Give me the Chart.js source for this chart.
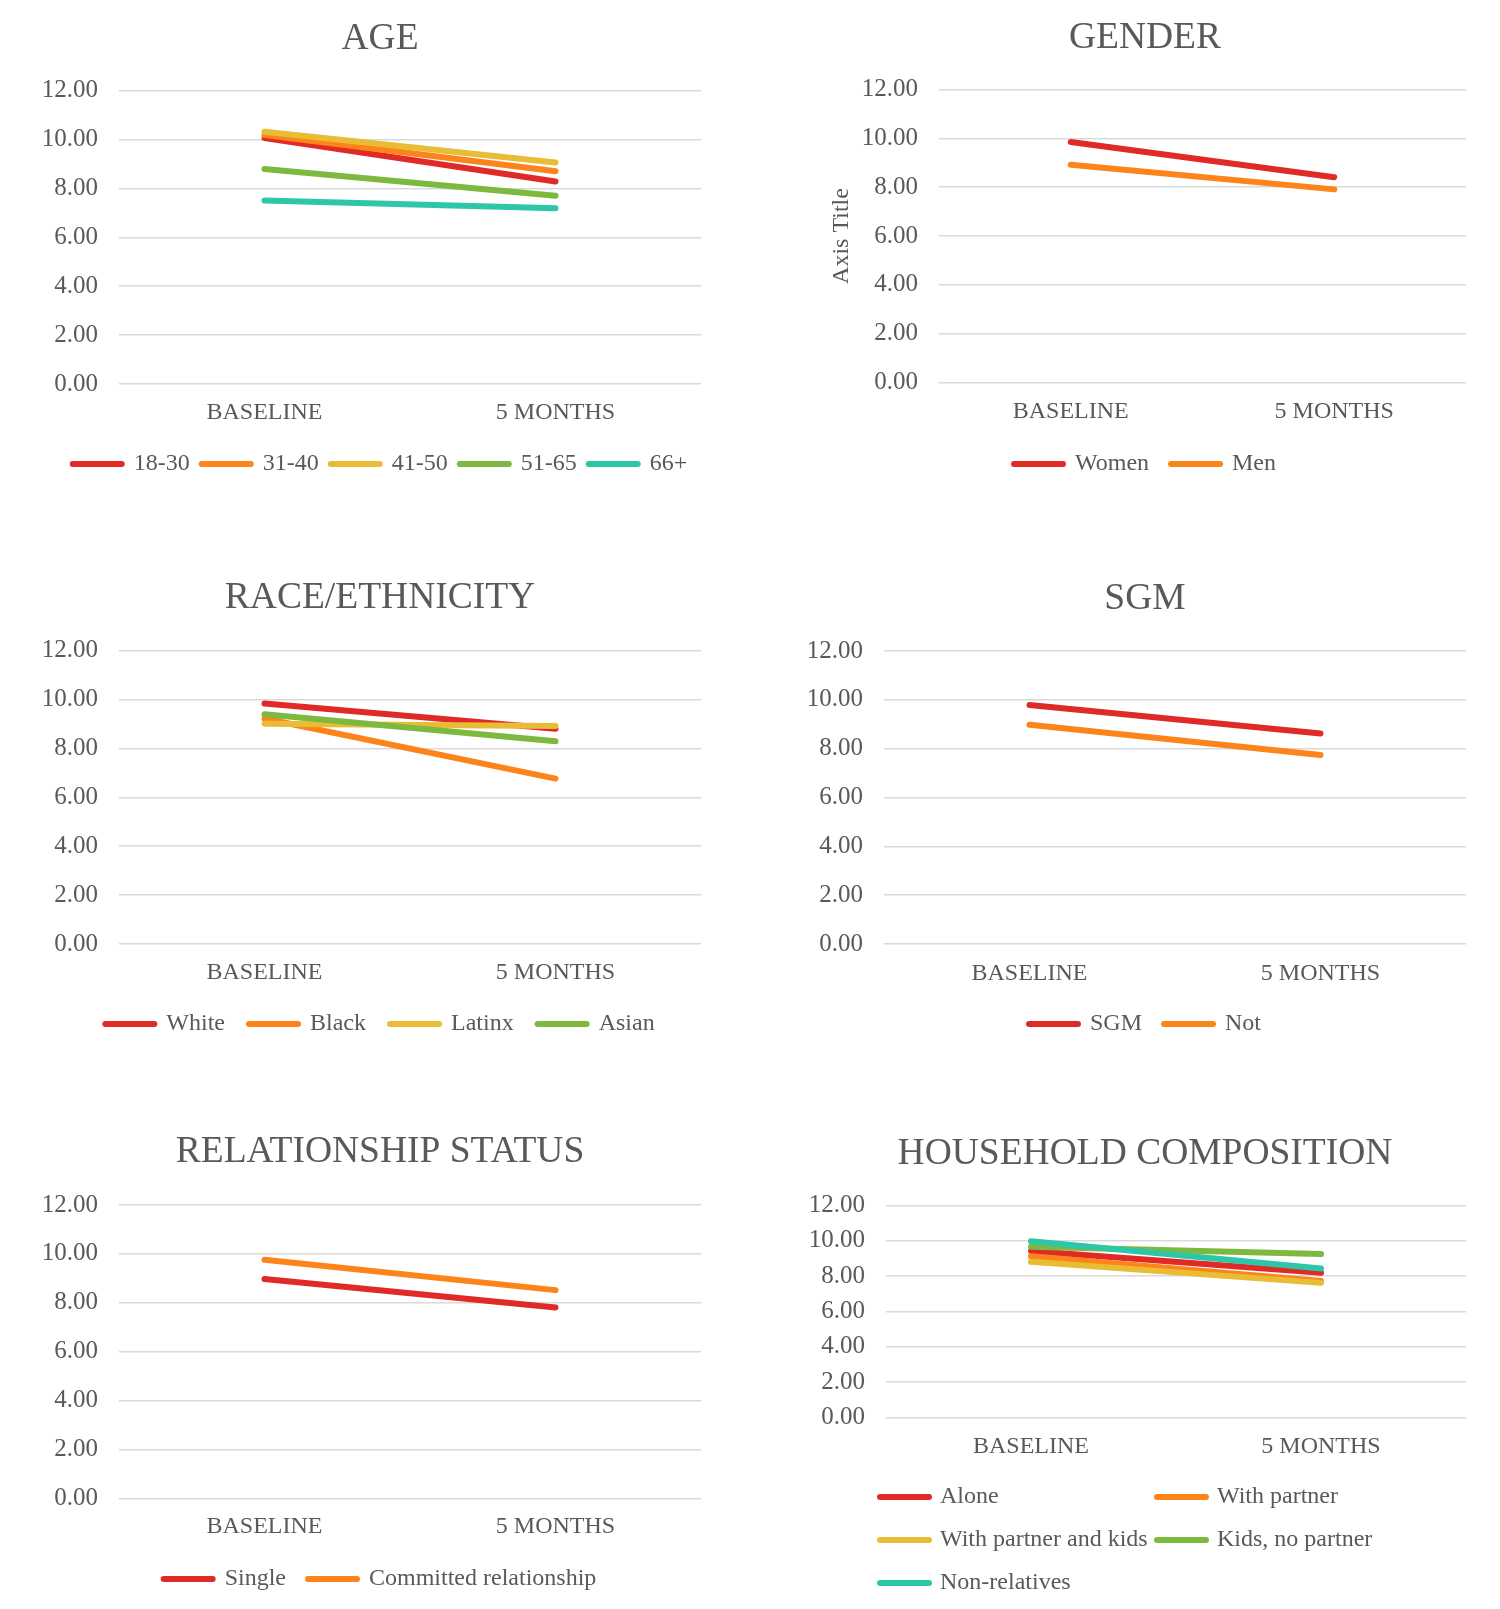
<!DOCTYPE html>
<html>
<head>
<meta charset="utf-8">
<title>Scores by group</title>
<script src="https://cdn.jsdelivr.net/npm/chart.js@4.4.1/dist/chart.umd.min.js"></script>
<style>
  body { margin: 0; background: #fff; }
  #wrap { position: relative; width: 1500px; height: 1609px; }
  #wrap canvas { position: absolute; }
</style>
</head>
<body>
<div id="wrap">
  <canvas id="ageChart" width="750" height="520" style="left:0;top:0"></canvas>
  <canvas id="genderChart" width="750" height="520" style="left:750px;top:0"></canvas>
  <canvas id="raceChart" width="750" height="520" style="left:0;top:560px"></canvas>
  <canvas id="sgmChart" width="750" height="520" style="left:750px;top:560px"></canvas>
  <canvas id="relChart" width="750" height="495" style="left:0;top:1114px"></canvas>
  <canvas id="hhChart" width="750" height="495" style="left:750px;top:1114px"></canvas>
</div>
<script>
// x categories and y axis range
const timepoints = ['BASELINE', '5 MONTHS'];
const yMin = 0;
const yMax = 12;
const yStep = 2;

// each series = [baseline, 5 months]
const ageGroups = ['18-30', '31-40', '41-50', '51-65', '66+'];
const ageValues = [[10.06, 8.28], [10.18, 8.70], [10.31, 9.06], [8.79, 7.70], [7.50, 7.19]];

const genderGroups = ['Women', 'Men'];
const genderValues = [[9.85, 8.41], [8.92, 7.91]];

const raceGroups = ['White', 'Black', 'Latinx', 'Asian'];
const raceValues = [[9.83, 8.80], [9.22, 6.76], [9.01, 8.91], [9.39, 8.29]];

const sgmGroups = ['SGM', 'Not'];
const sgmValues = [[9.79, 8.62], [8.98, 7.74]];

const relGroups = ['Single', 'Committed relationship'];
const relValues = [[8.97, 7.81], [9.76, 8.52]];

const hhGroups = ['Alone', 'With partner', 'With partner and kids', 'Kids, no partner', 'Non-relatives'];
const hhValues = [[9.43, 8.19], [9.13, 7.72], [8.81, 7.62], [9.66, 9.25], [9.98, 8.44]];

const palette = ['#df2a27', '#fd841a', '#e8bd35', '#7db83f', '#2dc6a6'];
const grey = '#595959';
const serif = "'Liberation Serif', 'Times New Roman', serif";
const titleSize = 37.5;

Chart.defaults.font.family = serif;

// household legend is a 2 column grid in the original, chart.js can't do that
const hhLegendCols = [130, 407];
const hhLegendRows = [383, 426, 469];
const hhLegend = {
    id: 'hhLegend',
    afterDraw(chart) {
        let c = chart.ctx;
        c.save();
        c.font = '24px ' + serif;
        c.textBaseline = 'middle';
        chart.data.datasets.forEach(function (ds, i) {
            let x = hhLegendCols[i % 2];
            let y = hhLegendRows[Math.floor(i / 2)];
            c.strokeStyle = ds.borderColor;
            c.lineWidth = 6;
            c.lineCap = 'round';
            c.beginPath();
            c.moveTo(x, y);
            c.lineTo(x + 49, y);
            c.stroke();
            c.fillStyle = grey;
            c.fillText(ds.label, x + 60, y);
        });
        c.restore();
    }
};

// legend items get round line ends like the plot lines
function roundLegend(chart) {
    return Chart.defaults.plugins.legend.labels.generateLabels(chart).map(function (item) {
        item.lineCap = 'round';
        return item;
    });
}

// layout numbers are canvas pixels: where the title, plot box, x labels and legend sit
function drawPanel(id, o) {
    let ctx = document.getElementById(id).getContext('2d');
    let W = ctx.canvas.width;
    let H = ctx.canvas.height;
    let half = titleSize * 0.6; // half of title line
    let legendPad = o.legendPad || 0;
    let xHeight = o.legendY ? o.legendY - o.bottom - legendPad - 12 : 46;
    let legendH = o.legendY ? 24 + legendPad + 10 : 0;

    let datasets = o.groups.map(function (label, i) {
        return {
            label: label,
            data: o.values[i],
            borderColor: palette[i],
            backgroundColor: palette[i],
            borderWidth: 6,
            borderCapStyle: 'round',
            pointRadius: 0,
            order: -i // later series on top, like excel
        };
    });

    return new Chart(ctx, {
        type: 'line',
        data: { labels: timepoints, datasets: datasets },
        options: {
            responsive: false,
            animation: false,
            layout: {
                padding: { left: o.padL, right: 0, top: 0, bottom: H - o.bottom - xHeight - legendH }
            },
            plugins: {
                title: {
                    display: true,
                    text: o.title,
                    color: grey,
                    font: { size: titleSize, weight: 'normal' },
                    padding: { top: o.titleY - half, bottom: o.top - o.titleY - half }
                },
                legend: {
                    display: !!o.legendY,
                    position: 'bottom',
                    labels: {
                        usePointStyle: true,
                        pointStyle: 'line',
                        pointStyleWidth: 49,
                        padding: legendPad,
                        color: grey,
                        font: { size: 24 },
                        generateLabels: roundLegend,
                        sort: (a, b) => a.datasetIndex - b.datasetIndex
                    }
                },
                tooltip: { enabled: false }
            },
            scales: {
                x: {
                    offset: true,
                    grid: { display: false, drawTicks: false },
                    border: { display: false },
                    ticks: { padding: o.labelY - o.bottom - 14.4, color: grey, font: { size: 24 } },
                    afterFit: function (s) { s.height = xHeight; }
                },
                y: {
                    min: yMin,
                    max: yMax,
                    ticks: {
                        stepSize: yStep,
                        padding: 21,
                        color: grey,
                        font: { size: 25 },
                        callback: v => v.toFixed(2)
                    },
                    grid: { color: '#d9d9d9', lineWidth: 1.5, drawTicks: false },
                    border: { display: false },
                    title: {
                        display: !!o.yTitle,
                        text: o.yTitle || '',
                        color: grey,
                        font: { size: 24 },
                        padding: { top: 37.6, bottom: 0 }
                    },
                    afterFit: function (s) { s.width = o.plotLeft - o.padL; }
                },
                // empty right axis, only keeps the gap right of the plot
                yRight: {
                    type: 'linear',
                    position: 'right',
                    grid: { display: false, drawTicks: false },
                    border: { display: false },
                    ticks: { display: false },
                    afterFit: function (s) { s.width = W - o.plotRight; }
                }
            }
        },
        plugins: o.plugins || []
    });
}

drawPanel('ageChart', {
    title: 'AGE', groups: ageGroups, values: ageValues,
    padL: 10, plotLeft: 119, plotRight: 701,
    titleY: 39, top: 90.5, bottom: 384, labelY: 413, legendY: 464, legendPad: 12
});
drawPanel('genderChart', {
    title: 'GENDER', groups: genderGroups, values: genderValues, yTitle: 'Axis Title',
    padL: 40, plotLeft: 189, plotRight: 716,
    titleY: 38, top: 89.5, bottom: 382.5, labelY: 412, legendY: 464, legendPad: 22
});
drawPanel('raceChart', {
    title: 'RACE/ETHNICITY', groups: raceGroups, values: raceValues,
    padL: 10, plotLeft: 119, plotRight: 701,
    titleY: 38, top: 90.5, bottom: 384, labelY: 413, legendY: 464, legendPad: 24
});
drawPanel('sgmChart', {
    title: 'SGM', groups: sgmGroups, values: sgmValues,
    padL: 40, plotLeft: 134, plotRight: 716,
    titleY: 39, top: 91, bottom: 384, labelY: 413.5, legendY: 464, legendPad: 22
});
drawPanel('relChart', {
    title: 'RELATIONSHIP STATUS', groups: relGroups, values: relValues,
    padL: 10, plotLeft: 119, plotRight: 701,
    titleY: 38, top: 91, bottom: 384.5, labelY: 413, legendY: 465, legendPad: 22
});
drawPanel('hhChart', {
    title: 'HOUSEHOLD COMPOSITION', groups: hhGroups, values: hhValues,
    padL: 40, plotLeft: 136, plotRight: 716,
    titleY: 40, top: 91.5, bottom: 303.5, labelY: 333, plugins: [hhLegend]
});
</script>
</body>
</html>
